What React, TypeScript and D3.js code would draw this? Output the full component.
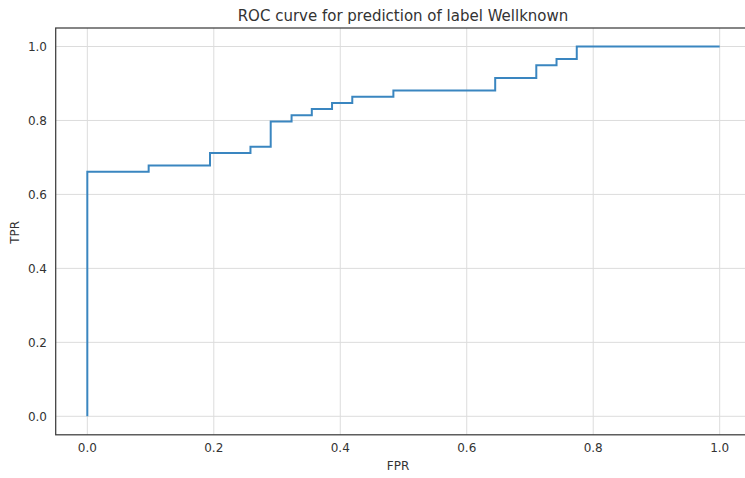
import React from "react";
import * as d3 from "d3";

// ROC curve points (false positive rate / true positive rate)
const fpr = [0, 0, 0.097, 0.097, 0.194, 0.194, 0.258, 0.258, 0.29, 0.29, 0.323, 0.323, 0.355, 0.355, 0.387, 0.387, 0.419, 0.419, 0.484, 0.484, 0.645, 0.645, 0.71, 0.71, 0.742, 0.742, 0.774, 0.774, 1.0];
const tpr = [0, 0.661, 0.661, 0.678, 0.678, 0.712, 0.712, 0.729, 0.729, 0.797, 0.797, 0.814, 0.814, 0.831, 0.831, 0.847, 0.847, 0.864, 0.864, 0.881, 0.881, 0.915, 0.915, 0.949, 0.949, 0.966, 0.966, 1.0, 1.0];

const xTicks = [0, 0.2, 0.4, 0.6, 0.8, 1.0];
const yTicks = [0, 0.2, 0.4, 0.6, 0.8, 1.0];

const title = "ROC curve for prediction of label Wellknown";
const xLabel = "FPR";
const yLabel = "TPR";

const W = 745;
const H = 478;
const left = 55.7;
const right = 751.3;
const top = 28;
const bottom = 434.8;

export default function App() {
  const x = d3.scaleLinear().domain([-0.05, 1.05]).range([left, right]);
  const y = d3.scaleLinear().domain([-0.05, 1.05]).range([bottom, top]);
  const pts = fpr.map((f, i) => [f, tpr[i]] as [number, number]);
  const line = d3
    .line<[number, number]>()
    .x((d) => x(d[0]))
    .y((d) => y(d[1]));
  const font = "DejaVu Sans, sans-serif";
  const textColor = "#333";

  return (
    <svg
      width={W}
      height={H}
      style={{ position: "absolute", left: 0, top: 0, background: "#fff" }}
      fontFamily={font}
    >
      <defs>
        <clipPath id="plot">
          <rect x={left} y={top} width={right - left} height={bottom - top} />
        </clipPath>
      </defs>
      {xTicks.map((t) => (
        <line key={"gx" + t} x1={x(t)} x2={x(t)} y1={top} y2={bottom} stroke="#dcdcdc" strokeWidth={1} />
      ))}
      {yTicks.map((t) => (
        <line key={"gy" + t} x1={left} x2={right} y1={y(t)} y2={y(t)} stroke="#dcdcdc" strokeWidth={1} />
      ))}
      <path
        d={line(pts) || ""}
        fill="none"
        stroke="#3a86c0"
        strokeWidth={2}
        strokeLinejoin="miter"
        clipPath="url(#plot)"
      />
      <rect
        x={left}
        y={top}
        width={right - left}
        height={bottom - top}
        fill="none"
        stroke="#3d3d3d"
        strokeWidth={1.25}
      />
      {xTicks.map((t) => (
        <text key={"tx" + t} x={x(t)} y={452} textAnchor="middle" fontSize={12} fill={textColor}>
          {t.toFixed(1)}
        </text>
      ))}
      {yTicks.map((t) => (
        <text key={"ty" + t} x={47} y={y(t)} dy="0.35em" textAnchor="end" fontSize={12} fill={textColor}>
          {t.toFixed(1)}
        </text>
      ))}
      <text x={398} y={470} textAnchor="middle" fontSize={12} fill={textColor}>
        {xLabel}
      </text>
      <text
        transform={`translate(19,${(top + bottom) / 2 + 1}) rotate(-90)`}
        textAnchor="middle"
        fontSize={12}
        fill={textColor}
      >
        {yLabel}
      </text>
      <text x={403} y={21} textAnchor="middle" fontSize={15} fill={textColor}>
        {title}
      </text>
    </svg>
  );
}
